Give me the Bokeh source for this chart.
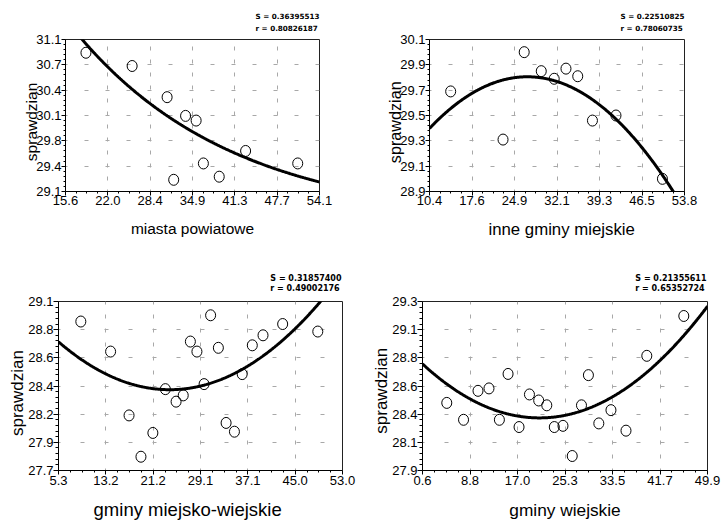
import numpy as np
from bokeh.plotting import figure
from bokeh.models import FixedTicker, Range1d
from bokeh.layouts import column, row
from bokeh.embed import file_html
from bokeh.resources import INLINE

# ---------------- data ----------------
# panel 1: miasta powiatowe
mp_x = [18.7, 25.7, 31.0, 32.0, 33.8, 35.4, 36.5, 38.9, 42.9, 50.8]
mp_y = [30.88, 30.71, 30.31, 29.25, 30.07, 30.01, 29.46, 29.29, 29.62, 29.46]
mp_xlim = (15.6, 54.1)
mp_ylim = (29.1, 31.05)
mp_xlabels = ["15.6", "22.0", "28.4", "34.9", "41.3", "47.7", "54.1"]
mp_ylabels = ["29.1", "29.4", "29.8", "30.1", "30.4", "30.7", "31.1"]
mp_title = "miasta powiatowe"
mp_stats = ["S = 0.36395513", "r = 0.80826187"]
mp_model = "expdecay"
mp_curve_cak = (28.70, 5.017, 0.04183)   # fitted curve y = c + a*exp(-k*x)

# panel 2: inne gminy miejskie
ig_x = [14.0, 22.9, 26.5, 29.4, 31.6, 33.6, 35.6, 38.1, 42.1, 50.0]
ig_y = [29.69, 29.31, 30.00, 29.85, 29.79, 29.87, 29.81, 29.46, 29.50, 29.00]
ig_xlim = (10.4, 53.75)
ig_ylim = (28.9, 30.1)
ig_xlabels = ["10.4", "17.6", "24.9", "32.1", "39.3", "46.5", "53.8"]
ig_ylabels = ["28.9", "29.1", "29.3", "29.5", "29.7", "29.9", "30.1"]
ig_title = "inne gminy miejskie"
ig_stats = ["S = 0.22510825", "r = 0.78060735"]
ig_model = "quadratic"

# panel 3: gminy miejsko-wiejskie
mw_x = [9.0, 14.0, 17.1, 19.1, 21.1, 23.2, 25.0, 26.2, 27.4, 28.5,
        29.7, 30.8, 32.1, 33.4, 34.8, 36.1, 37.8, 39.6, 42.9, 48.8]
mw_y = [28.89, 28.65, 28.14, 27.81, 28.00, 28.35, 28.25, 28.30, 28.73, 28.65,
        28.39, 28.94, 28.68, 28.08, 28.01, 28.47, 28.70, 28.78, 28.87, 28.81]
mw_xlim = (5.25, 52.95)
mw_ylim = (27.7, 29.05)
mw_xlabels = ["5.3", "13.2", "21.2", "29.1", "37.1", "45.0", "53.0"]
mw_ylabels = ["27.7", "27.9", "28.2", "28.4", "28.6", "28.8", "29.1"]
mw_title = "gminy miejsko-wiejskie"
mw_stats = ["S = 0.31857400", "r = 0.49002176"]
mw_model = "quadratic"

# panel 4: gminy wiejskie
gw_x = [4.8, 7.7, 10.2, 12.1, 13.9, 15.4, 17.3, 19.1, 20.7, 22.1,
        23.4, 24.9, 26.5, 28.1, 29.3, 31.1, 33.2, 35.8, 39.4, 45.8]
gw_y = [28.46, 28.32, 28.56, 28.58, 28.32, 28.70, 28.26, 28.53, 28.48, 28.44,
        28.26, 28.27, 28.02, 28.44, 28.69, 28.29, 28.40, 28.23, 28.85, 29.18]
gw_xlim = (0.6, 49.9)
gw_ylim = (27.9, 29.3)
gw_xlabels = ["0.6", "8.8", "17.0", "25.3", "33.5", "41.7", "49.9"]
gw_ylabels = ["27.9", "28.1", "28.4", "28.6", "28.8", "29.1", "29.3"]
gw_title = "gminy wiejskie"
gw_stats = ["S = 0.21355611", "r = 0.65352724"]
gw_model = "quadratic"

y_title = "sprawdzian"

FONT = "Liberation Sans"
STAT_FONT = "DejaVu Sans"
NB = "\u00a0"


def fit_curve(xs, ys, model, xlim, params=None):
    xs = np.asarray(xs, float)
    ys = np.asarray(ys, float)
    cx = np.linspace(xlim[0], xlim[1], 400)
    if model == "expdecay":
        c, a, k = params
        cy = c + a * np.exp(-k * cx)
    else:
        cy = np.polyval(np.polyfit(xs, ys, 2), cx)
    return cx, cy


def make_panel(xs, ys, xlim, ylim, xlabels, ylabels, xtitle, stats, model, L, params=None):
    p = figure(width=L["w"], height=L["h"],
               x_range=Range1d(*xlim), y_range=Range1d(*ylim),
               output_backend="svg", toolbar_location=None,
               min_border_left=L["left"], min_border_right=L["right"],
               min_border_top=L["top"], min_border_bottom=L["bottom"])
    p.background_fill_color = "white"
    p.border_fill_color = "white"
    p.outline_line_color = "#222222"
    p.outline_line_width = 1

    xt = [float(v) for v in np.linspace(xlim[0], xlim[1], len(xlabels))]
    yt = [float(v) for v in np.linspace(ylim[0], ylim[1], len(ylabels))]
    xminor = [a + (b - a) * k / 4 for a, b in zip(xt[:-1], xt[1:]) for k in (1, 2, 3)]
    yminor = [a + (b - a) * k / 5 for a, b in zip(yt[:-1], yt[1:]) for k in (1, 2, 3, 4)]

    p.xaxis.ticker = FixedTicker(ticks=xt, minor_ticks=xminor)
    p.yaxis.ticker = FixedTicker(ticks=yt, minor_ticks=yminor)
    p.xaxis.major_label_overrides = {t: s for t, s in zip(xt, xlabels)}
    p.yaxis.major_label_overrides = {t: s for t, s in zip(yt, ylabels)}

    for ax, tout, mout, stand in ((p.xaxis, L["xtick"], L["xminor"], L["xstand"]),
                                  (p.yaxis, L["ytick"], L["yminor"], L["ystand"])):
        ax.axis_line_color = "black"
        ax.major_tick_line_color = "black"
        ax.minor_tick_line_color = "black"
        ax.major_tick_in = 0
        ax.minor_tick_in = 0
        ax.major_tick_out = tout
        ax.minor_tick_out = mout
        ax.major_label_standoff = stand
        ax.major_label_text_font = FONT
        ax.major_label_text_font_size = "13px"
        ax.major_label_text_color = "black"
        ax.axis_label_text_font = FONT
        ax.axis_label_text_font_style = "normal"
        ax.axis_label_text_color = "black"
    p.yaxis.major_label_orientation = "horizontal"

    # axis titles (non-breaking spaces nudge the text along the axis)
    p.xaxis.axis_label = NB * L["xt_lead"] + xtitle + NB * L["xt_trail"]
    p.xaxis.axis_label_text_font_size = L["xt_size"]
    p.xaxis.axis_label_standoff = L["xt_stand"]
    p.yaxis.axis_label = y_title + NB * L["yt_trail"]
    p.yaxis.axis_label_text_font_size = L["yt_size"]
    p.yaxis.axis_label_standoff = L["yt_stand"]

    p.xgrid.ticker = FixedTicker(ticks=xt[1:-1])
    p.ygrid.ticker = FixedTicker(ticks=yt[1:-1])
    p.xgrid.grid_line_color = "#a8a8a8"
    p.ygrid.grid_line_color = "#a8a8a8"
    p.xgrid.grid_line_dash = L["vdash"]
    p.ygrid.grid_line_dash = L["hdash"]
    p.xgrid.grid_line_dash_offset = 2
    p.ygrid.grid_line_dash_offset = 2

    cx, cy = fit_curve(xs, ys, model, xlim, params)
    p.line(cx, cy, line_color="black", line_width=3)

    p.ellipse(x=xs, y=ys, width=10, height=11, width_units="screen",
              height_units="screen", fill_color=None, line_color="black",
              line_width=1)

    # fit statistics, top right
    p.title.text = "\n".join(stats)
    p.title.align = "right"
    p.title.text_font = STAT_FONT
    p.title.text_font_style = "bold"
    p.title.text_font_size = L["st_size"]
    p.title.text_line_height = L["st_lh"]
    p.title.text_color = "black"
    p.title.standoff = L["st_stand"]
    p.title.offset = L["st_off"]
    return p


top_common = dict(h=255, top=39, bottom=64, xtick=4, xminor=2, ytick=4, yminor=2,
                  xstand=0, ystand=0, vdash="4 9", hdash="4 17",
                  st_size="7.2px", st_lh=1.36, st_stand=13, st_off=0)
bot_common = dict(h=267, top=46, bottom=51, xtick=4, xminor=2, ytick=5, yminor=3,
                  xstand=1, ystand=0, vdash="4 10", hdash="4 20",
                  st_size="8px", st_lh=1.15, st_stand=17, st_off=1)

L1 = dict(top_common, w=360, left=65, right=41,
          xt_lead=0, xt_trail=0, xt_size="15.5px", xt_stand=12,
          yt_trail=3, yt_size="15.5px", yt_stand=-7)
L2 = dict(top_common, w=361, left=69, right=37,
          xt_lead=2, xt_trail=0, xt_size="16.8px", xt_stand=12,
          yt_trail=3, yt_size="16.2px", yt_stand=-7)
L3 = dict(bot_common, w=360, left=58, right=18,
          xt_lead=0, xt_trail=5, xt_size="18.5px", xt_stand=11,
          yt_trail=3, yt_size="17px", yt_stand=-2)
L4 = dict(bot_common, w=361, left=62, right=14,
          xt_lead=0, xt_trail=0, xt_size="17.3px", xt_stand=12,
          yt_trail=2, yt_size="17px", yt_stand=-2)

p1 = make_panel(mp_x, mp_y, mp_xlim, mp_ylim, mp_xlabels, mp_ylabels, mp_title, mp_stats, mp_model, L1, mp_curve_cak)
p2 = make_panel(ig_x, ig_y, ig_xlim, ig_ylim, ig_xlabels, ig_ylabels, ig_title, ig_stats, ig_model, L2)
p3 = make_panel(mw_x, mw_y, mw_xlim, mw_ylim, mw_xlabels, mw_ylabels, mw_title, mw_stats, mw_model, L3)
p4 = make_panel(gw_x, gw_y, gw_xlim, gw_ylim, gw_xlabels, gw_ylabels, gw_title, gw_stats, gw_model, L4)

layout = column(row(p1, p2), row(p3, p4))
open("out.html", "w").write(file_html(layout, INLINE))
